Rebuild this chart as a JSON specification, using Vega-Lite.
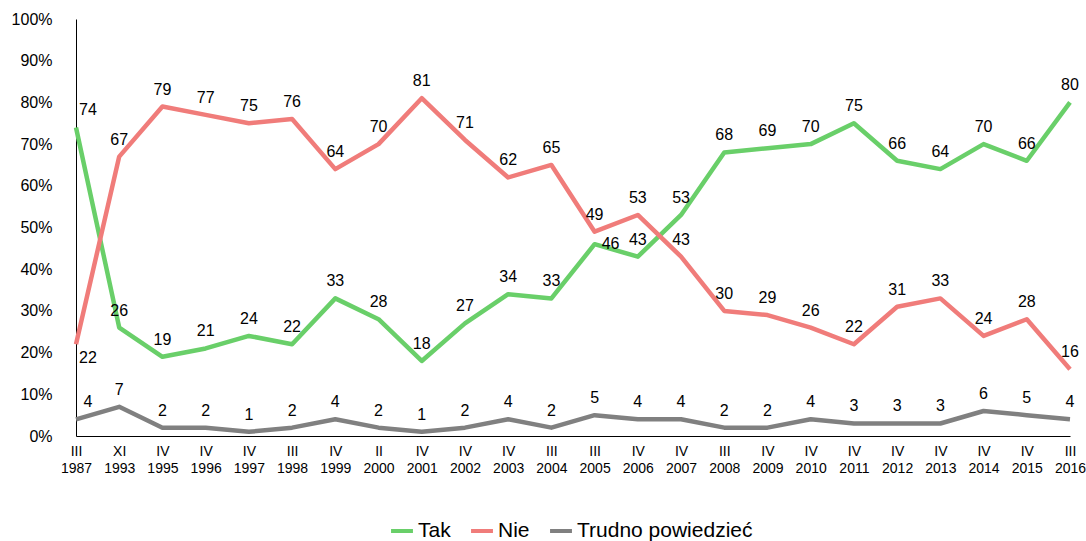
{
  "$schema": "https://vega.github.io/schema/vega-lite/v6.json",
  "width": 994,
  "height": 417,
  "autosize": {"type": "none"},
  "padding": {"left": 76, "top": 19, "right": 16, "bottom": 105},
  "background": "white",
  "config": {"view": {"stroke": null}, "font": "Liberation Sans"},
  "data": {"values": [
    {"okres":"III 1987","seria":"Tak","v":74},{"okres":"XI 1993","seria":"Tak","v":26},{"okres":"IV 1995","seria":"Tak","v":19},{"okres":"IV 1996","seria":"Tak","v":21},{"okres":"IV 1997","seria":"Tak","v":24},{"okres":"III 1998","seria":"Tak","v":22},{"okres":"IV 1999","seria":"Tak","v":33},{"okres":"II 2000","seria":"Tak","v":28},{"okres":"IV 2001","seria":"Tak","v":18},{"okres":"IV 2002","seria":"Tak","v":27},{"okres":"IV 2003","seria":"Tak","v":34},{"okres":"III 2004","seria":"Tak","v":33},{"okres":"III 2005","seria":"Tak","v":46},{"okres":"IV 2006","seria":"Tak","v":43},{"okres":"IV 2007","seria":"Tak","v":53},{"okres":"III 2008","seria":"Tak","v":68},{"okres":"IV 2009","seria":"Tak","v":69},{"okres":"IV 2010","seria":"Tak","v":70},{"okres":"IV 2011","seria":"Tak","v":75},{"okres":"IV 2012","seria":"Tak","v":66},{"okres":"IV 2013","seria":"Tak","v":64},{"okres":"IV 2014","seria":"Tak","v":70},{"okres":"IV 2015","seria":"Tak","v":66},{"okres":"III 2016","seria":"Tak","v":80},
    {"okres":"III 1987","seria":"Nie","v":22},{"okres":"XI 1993","seria":"Nie","v":67},{"okres":"IV 1995","seria":"Nie","v":79},{"okres":"IV 1996","seria":"Nie","v":77},{"okres":"IV 1997","seria":"Nie","v":75},{"okres":"III 1998","seria":"Nie","v":76},{"okres":"IV 1999","seria":"Nie","v":64},{"okres":"II 2000","seria":"Nie","v":70},{"okres":"IV 2001","seria":"Nie","v":81},{"okres":"IV 2002","seria":"Nie","v":71},{"okres":"IV 2003","seria":"Nie","v":62},{"okres":"III 2004","seria":"Nie","v":65},{"okres":"III 2005","seria":"Nie","v":49},{"okres":"IV 2006","seria":"Nie","v":53},{"okres":"IV 2007","seria":"Nie","v":43},{"okres":"III 2008","seria":"Nie","v":30},{"okres":"IV 2009","seria":"Nie","v":29},{"okres":"IV 2010","seria":"Nie","v":26},{"okres":"IV 2011","seria":"Nie","v":22},{"okres":"IV 2012","seria":"Nie","v":31},{"okres":"IV 2013","seria":"Nie","v":33},{"okres":"IV 2014","seria":"Nie","v":24},{"okres":"IV 2015","seria":"Nie","v":28},{"okres":"III 2016","seria":"Nie","v":16},
    {"okres":"III 1987","seria":"Trudno powiedzieć","v":4},{"okres":"XI 1993","seria":"Trudno powiedzieć","v":7},{"okres":"IV 1995","seria":"Trudno powiedzieć","v":2},{"okres":"IV 1996","seria":"Trudno powiedzieć","v":2},{"okres":"IV 1997","seria":"Trudno powiedzieć","v":1},{"okres":"III 1998","seria":"Trudno powiedzieć","v":2},{"okres":"IV 1999","seria":"Trudno powiedzieć","v":4},{"okres":"II 2000","seria":"Trudno powiedzieć","v":2},{"okres":"IV 2001","seria":"Trudno powiedzieć","v":1},{"okres":"IV 2002","seria":"Trudno powiedzieć","v":2},{"okres":"IV 2003","seria":"Trudno powiedzieć","v":4},{"okres":"III 2004","seria":"Trudno powiedzieć","v":2},{"okres":"III 2005","seria":"Trudno powiedzieć","v":5},{"okres":"IV 2006","seria":"Trudno powiedzieć","v":4},{"okres":"IV 2007","seria":"Trudno powiedzieć","v":4},{"okres":"III 2008","seria":"Trudno powiedzieć","v":2},{"okres":"IV 2009","seria":"Trudno powiedzieć","v":2},{"okres":"IV 2010","seria":"Trudno powiedzieć","v":4},{"okres":"IV 2011","seria":"Trudno powiedzieć","v":3},{"okres":"IV 2012","seria":"Trudno powiedzieć","v":3},{"okres":"IV 2013","seria":"Trudno powiedzieć","v":3},{"okres":"IV 2014","seria":"Trudno powiedzieć","v":6},{"okres":"IV 2015","seria":"Trudno powiedzieć","v":5},{"okres":"III 2016","seria":"Trudno powiedzieć","v":4}
  ]},
  "encoding": {
    "x": {"field": "okres", "type": "ordinal", "sort": null,
      "scale": {"type": "point", "padding": 0},
      "axis": {"title": null, "labelAngle": 0, "ticks": false, "domainColor": "black", "domainWidth": 1,
        "labelExpr": "split(datum.label, ' ')", "labelFontSize": 14, "labelColor": "black", "labelPadding": 8, "labelLineHeight": 17}},
    "y": {"field": "v", "type": "quantitative",
      "scale": {"domain": [0, 100], "nice": false},
      "axis": {"title": null, "values": [0,10,20,30,40,50,60,70,80,90,100], "labelExpr": "datum.value + '%'",
        "grid": false, "ticks": false, "domainColor": "black", "domainWidth": 1, "labelFontSize": 16, "labelColor": "black", "labelPadding": 24}},
    "color": {"field": "seria", "type": "nominal",
      "scale": {"domain": ["Tak", "Nie", "Trudno powiedzieć"], "range": ["#69CF69", "#F07C7A", "#808080"]},
      "legend": {"title": null, "orient": "none", "legendX": 313, "legendY": 499, "direction": "horizontal", "symbolType": "stroke", "symbolStrokeWidth": 4,
        "symbolSize": 480, "labelFontSize": 21, "labelLimit": 400, "labelColor": "black", "columnPadding": 12, "labelOffset": 3, "padding": 0}}
  },
  "layer": [
    {"mark": {"type": "line", "strokeWidth": 4.5, "strokeJoin": "round"}},
    {"transform": [{"filter": "datum.okres != 'III 1987' && !(datum.okres == 'III 2005' && datum.seria == 'Tak')"}],
     "mark": {"type": "text", "dy": -12, "baseline": "alphabetic", "fontSize": 16, "color": "black"},
     "encoding": {"text": {"field": "v", "type": "quantitative"}, "color": {"value": "black"}}},
    {"transform": [{"filter": "datum.okres == 'III 1987' && datum.seria != 'Nie'"}],
     "mark": {"type": "text", "dy": -12, "dx": 12, "baseline": "alphabetic", "fontSize": 16, "color": "black"},
     "encoding": {"text": {"field": "v", "type": "quantitative"}, "color": {"value": "black"}}},
    {"transform": [{"filter": "datum.okres == 'III 1987' && datum.seria == 'Nie'"}],
     "mark": {"type": "text", "dy": 19, "dx": 12, "baseline": "alphabetic", "fontSize": 16, "color": "black"},
     "encoding": {"text": {"field": "v", "type": "quantitative"}, "color": {"value": "black"}}},
    {"transform": [{"filter": "datum.okres == 'III 2005' && datum.seria == 'Tak'"}],
     "mark": {"type": "text", "dy": 5, "dx": 16, "baseline": "alphabetic", "fontSize": 16, "color": "black"},
     "encoding": {"text": {"field": "v", "type": "quantitative"}, "color": {"value": "black"}}}
  ]
}
